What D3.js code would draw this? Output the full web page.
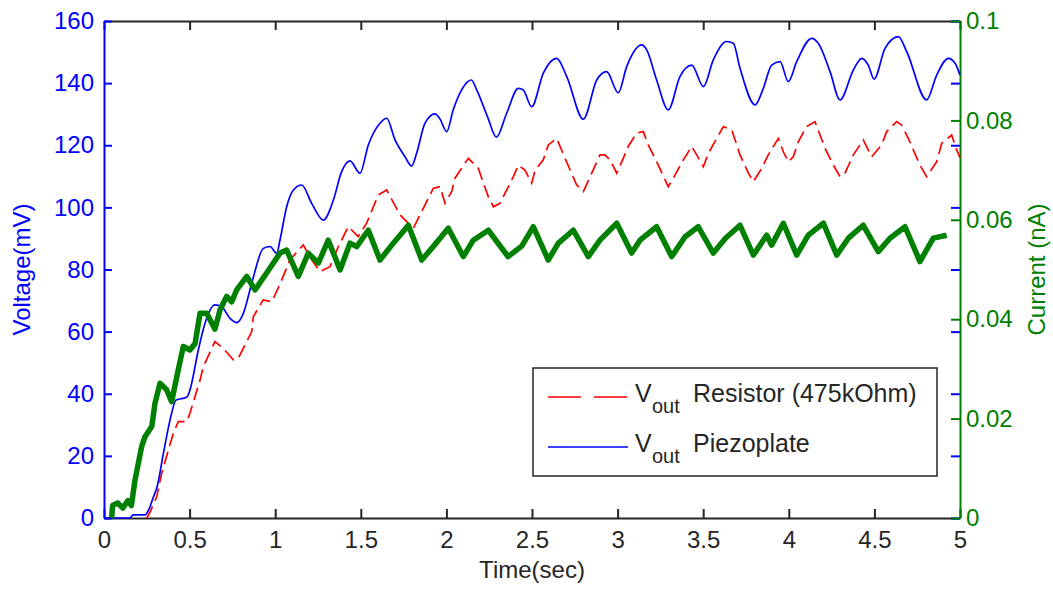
<!DOCTYPE html>
<html>
<head>
<meta charset="utf-8">
<script src="https://cdn.jsdelivr.net/npm/d3@7"></script>
<style>
  body { margin: 0; background: #fff; }
  svg { display: block; font-family: "Liberation Sans", Arial, sans-serif; }
</style>
</head>
<body>
<div id="chart"></div>
<script>
// Vout piezoplate (mV) : [time sec, voltage]
const piezoData = [
  [0,0],[0.15,0],[0.17,1],[0.24,1],[0.26,2.5],[0.29,7],[0.31,10],[0.347,20.8],[0.386,31.6],[0.421,38],
  [0.46,38.5],[0.487,39.1],[0.502,41.2],[0.551,54.1],[0.59,62.7],[0.648,68.6],[0.687,68],[0.736,64.3],
  [0.775,62.9],[0.814,65.9],[0.863,75.6],[0.931,86.8],[0.97,87.4],[1.009,85.2],[1.028,89.5],[1.067,100.2],
  [1.106,105.6],[1.155,107.2],[1.213,101.3],[1.281,95.9],[1.34,102.4],[1.388,111.5],[1.437,115],[1.495,111],
  [1.544,120.1],[1.612,127.1],[1.651,128.7],[1.70,121.7],[1.758,116.3],[1.797,113.3],[1.826,117.4],
  [1.875,127.1],[1.933,130.1],[1.96,128.7],[2.002,124.4],[2.04,131.4],[2.089,137.8],[2.125,140.5],
  [2.146,141],[2.177,137.8],[2.24,129.2],[2.292,122.6],[2.352,130.3],[2.42,138.3],[2.449,137.8],
  [2.498,132.4],[2.566,143.2],[2.644,148],[2.703,142.1],[2.8,128.4],[2.878,141],[2.936,143.7],
  [3.004,136.9],[3.053,145.3],[3.141,152.3],[3.17,150.7],[3.228,141],[3.296,131.4],[3.364,142.1],
  [3.433,145.8],[3.501,138.9],[3.559,147.5],[3.637,153.4],[3.676,152.8],[3.715,144.8],[3.803,133],
  [3.851,138.3],[3.9,145.8],[3.949,146.9],[3.997,140.5],[4.046,146.9],[4.134,154.4],[4.172,152.8],
  [4.241,143.7],[4.299,134.6],[4.377,144.2],[4.426,148],[4.464,145.8],[4.498,141.3],[4.562,151.2],
  [4.64,155],[4.689,150.1],[4.805,134.6],[4.864,142.6],[4.932,148],[4.971,146.4],[5.0,142.6]
];

// Vout resistor 475kOhm (mV)
const resistorData = [
  [0.249,0],[0.27,2],[0.308,6.9],[0.337,14.4],[0.376,21.9],[0.405,27.3],[0.434,31],[0.483,31],[0.502,33.7],
  [0.561,44.4],[0.58,48.7],[0.648,56.8],[0.697,54.6],[0.755,50.9],[0.784,51.4],[0.863,60],[0.872,64.8],
  [0.93,70.2],[0.98,69.6],[1.028,75.3],[1.086,83.1],[1.164,87.9],[1.213,83.1],[1.262,79.3],[1.32,80.9],
  [1.369,87.4],[1.427,93.8],[1.485,90.6],[1.534,94.9],[1.602,104],[1.651,105.6],[1.729,97.6],[1.807,93.3],
  [1.865,99.7],[1.923,106.1],[1.963,106.7],[1.992,101.3],[2.031,105.1],[2.05,109.4],[2.128,115.8],
  [2.186,112.6],[2.245,103.4],[2.274,100.2],[2.313,101.3],[2.362,106.7],[2.391,109.9],[2.42,113.6],
  [2.459,112],[2.498,107.8],[2.518,112],[2.566,115.3],[2.595,120.1],[2.644,122.2],[2.664,119.6],
  [2.693,115.8],[2.761,107.2],[2.8,105.1],[2.849,111],[2.897,116.9],[2.926,116.9],[2.956,115.3],
  [2.995,111],[3.033,115.8],[3.062,119.6],[3.111,123.9],[3.15,124.4],[3.179,120.1],[3.228,114.7],
  [3.296,106.7],[3.335,110.4],[3.384,115.3],[3.433,119.6],[3.462,116.9],[3.501,113.1],[3.53,117.4],
  [3.579,122.2],[3.618,126],[3.667,124.9],[3.715,116.9],[3.764,111],[3.793,108.3],[3.842,112.6],
  [3.88,116.9],[3.939,122.2],[3.968,117.9],[3.997,114.7],[4.026,116.3],[4.056,121.2],[4.104,126],
  [4.153,127.6],[4.212,119],[4.26,113.6],[4.299,109.9],[4.328,111],[4.377,116.9],[4.435,121.7],
  [4.484,116.3],[4.542,120.1],[4.572,124.4],[4.63,127.6],[4.659,126.5],[4.698,122.2],[4.766,113.6],
  [4.805,109.9],[4.864,114.7],[4.893,120.6],[4.951,123.3],[4.981,118.5],[5.0,116]
];

// current (nA), right axis
const currentData = [
  [0.045,0],[0.05,0.0025],[0.08,0.003],[0.11,0.002],[0.14,0.0035],[0.16,0.0025],[0.181,0.0076],
  [0.22,0.0144],[0.24,0.0164],[0.279,0.0184],[0.298,0.0231],[0.327,0.0271],[0.366,0.0258],[0.395,0.0234],
  [0.425,0.0284],[0.463,0.0345],[0.502,0.0338],[0.532,0.0351],[0.561,0.0412],[0.60,0.0412],[0.648,0.038],
  [0.678,0.0419],[0.717,0.0446],[0.746,0.0435],[0.775,0.0459],[0.834,0.0486],[0.882,0.0459],[0.95,0.0493],
  [1.028,0.0533],[1.067,0.0539],[1.135,0.0486],[1.193,0.0533],[1.252,0.0513],[1.31,0.0559],[1.379,0.0499],
  [1.437,0.0553],[1.476,0.0546],[1.544,0.0579],[1.612,0.0519],[1.69,0.0553],[1.778,0.0589],[1.856,0.0519],
  [1.923,0.0546],[2.011,0.0583],[2.099,0.0526],[2.157,0.0559],[2.245,0.0579],[2.36,0.0526],[2.44,0.0547],
  [2.508,0.0586],[2.595,0.0519],[2.654,0.0553],[2.741,0.0579],[2.829,0.0526],[2.897,0.0559],[2.995,0.0593],
  [3.082,0.0533],[3.131,0.0559],[3.228,0.0586],[3.316,0.0526],[3.394,0.0566],[3.471,0.0586],[3.559,0.0533],
  [3.63,0.0563],[3.715,0.0589],[3.793,0.0529],[3.871,0.0569],[3.90,0.0549],[3.968,0.0593],[4.046,0.0529],
  [4.114,0.0569],[4.202,0.0593],[4.28,0.0529],[4.348,0.0563],[4.435,0.0589],[4.523,0.0536],[4.591,0.0563],
  [4.679,0.0586],[4.766,0.0516],[4.844,0.0563],[4.922,0.0569]
];

const xTicks = [0, 0.5, 1, 1.5, 2, 2.5, 3, 3.5, 4, 4.5, 5];
const voltTicks = [0, 20, 40, 60, 80, 100, 120, 140, 160];
const currentTicks = [0, 0.02, 0.04, 0.06, 0.08, 0.1];

const legendItems = [
  { label: "Resistor (475kOhm)", color: "#ff0000", dash: "33,13" },
  { label: "Piezoplate", color: "#0000ff", dash: null }
];

const width = 1053, height = 593;
const margin = { top: 21, right: 93, bottom: 75, left: 104 };
const plotW = width - margin.left - margin.right;
const plotH = height - margin.top - margin.bottom;

const blue = "#0000ff", red = "#ff0000", green = "#008000", dark = "#262626";
const fontSize = 24;

const svg = d3.select("#chart").append("svg")
  .attr("width", width)
  .attr("height", height);

const g = svg.append("g").attr("transform", `translate(${margin.left},${margin.top})`);

const x = d3.scaleLinear().domain([0, 5]).range([0, plotW]);
const yV = d3.scaleLinear().domain([0, 160]).range([plotH, 0]);
const yI = d3.scaleLinear().domain([0, 0.1]).range([plotH, 0]);

function styleAxis(sel, color, showText) {
  sel.select(".domain").attr("stroke", color).attr("stroke-width", 2);
  sel.selectAll(".tick line").attr("stroke", color).attr("stroke-width", 2);
  sel.selectAll(".tick text")
    .attr("fill", color)
    .style("font-size", fontSize + "px")
    .style("display", showText ? null : "none");
}

// top and bottom
g.append("g").attr("transform", `translate(0,${plotH})`)
  .call(d3.axisBottom(x).tickValues(xTicks).tickSizeInner(-9).tickSizeOuter(0).tickPadding(13).tickFormat(d3.format("")))
  .call(s => styleAxis(s, dark, true));

g.append("g")
  .call(d3.axisTop(x).tickValues(xTicks).tickSizeInner(-9).tickSizeOuter(0))
  .call(s => styleAxis(s, dark, false));

// mirrored voltage ticks on the right
g.append("g").attr("transform", `translate(${plotW},0)`)
  .call(d3.axisRight(yV).tickValues(voltTicks).tickSizeInner(-9).tickSizeOuter(0))
  .call(s => styleAxis(s, blue, false))
  .call(s => s.select(".domain").remove());

// current axis (right)
g.append("g").attr("transform", `translate(${plotW},0)`)
  .call(d3.axisRight(yI).tickValues(currentTicks).tickSizeInner(-9).tickSizeOuter(0).tickPadding(6).tickFormat(d => d === 0 ? "0" : d3.format("")(+d.toFixed(2))))
  .call(s => styleAxis(s, green, true));

// voltage axis (left)
g.append("g")
  .call(d3.axisLeft(yV).tickValues(voltTicks).tickSizeInner(-8).tickSizeOuter(0).tickPadding(10))
  .call(s => styleAxis(s, blue, true));

const lineV = d3.line().x(d => x(d[0])).y(d => yV(d[1]));
const smoothV = d3.line().curve(d3.curveMonotoneX).x(d => x(d[0])).y(d => yV(d[1]));
const lineI = d3.line().x(d => x(d[0])).y(d => yI(d[1]));

const plot = g.append("g");

plot.append("path")
  .datum(resistorData)
  .attr("fill", "none")
  .attr("stroke", red)
  .attr("stroke-width", 1.7)
  .attr("stroke-dasharray", "13,6")
  .attr("d", lineV);

plot.append("path")
  .datum(piezoData)
  .attr("fill", "none")
  .attr("stroke", blue)
  .attr("stroke-width", 1.7)
  .attr("d", smoothV);

plot.append("path")
  .datum(currentData)
  .attr("fill", "none")
  .attr("stroke", green)
  .attr("stroke-width", 5.5)
  .attr("stroke-linejoin", "round")
  .attr("d", lineI);

// axis titles
svg.append("text")
  .attr("transform", `translate(30,${margin.top + plotH / 2}) rotate(-90)`)
  .attr("text-anchor", "middle")
  .attr("fill", blue)
  .style("font-size", fontSize + "px")
  .text("Voltage(mV)");

svg.append("text")
  .attr("transform", `translate(1045,${margin.top + plotH / 2}) rotate(-90)`)
  .attr("text-anchor", "middle")
  .attr("fill", green)
  .style("font-size", fontSize + "px")
  .text("Current (nA)");

svg.append("text")
  .attr("x", margin.left + plotW / 2)
  .attr("y", 578)
  .attr("text-anchor", "middle")
  .attr("fill", dark)
  .style("font-size", fontSize + "px")
  .text("Time(sec)");

// legend
const legend = svg.append("g").attr("transform", "translate(533,368)");
legend.append("rect")
  .attr("width", 404).attr("height", 108)
  .attr("fill", "#fff")
  .attr("stroke", dark)
  .attr("stroke-width", 1.5);

legendItems.forEach((item, i) => {
  const cy = 29 + i * 50;
  legend.append("line")
    .attr("x1", 15).attr("x2", 95)
    .attr("y1", cy).attr("y2", cy)
    .attr("stroke", item.color)
    .attr("stroke-width", 1.6)
    .attr("stroke-dasharray", item.dash);
  legend.append("text")
    .attr("x", 102).attr("y", cy + 5)
    .attr("fill", dark)
    .style("font-size", "25px")
    .text("V");
  legend.append("text")
    .attr("x", 119).attr("y", cy + 16)
    .attr("fill", dark)
    .style("font-size", "20px")
    .text("out");
  legend.append("text")
    .attr("x", 160).attr("y", cy + 5)
    .attr("fill", dark)
    .style("font-size", "25px")
    .text(item.label);
});
</script>
</body>
</html>
